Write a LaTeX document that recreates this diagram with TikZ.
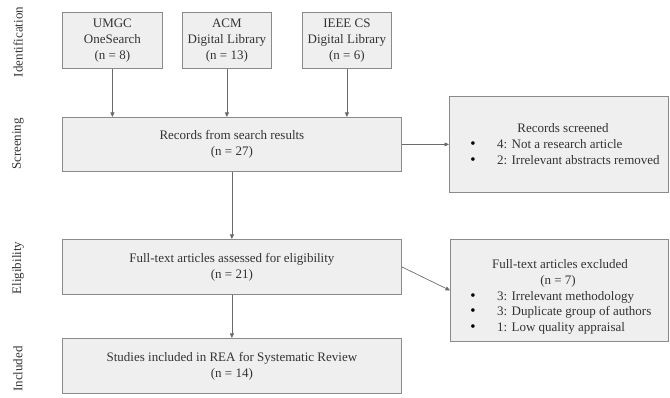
\documentclass[tikz,border=0pt]{standalone}
\usepackage{fontspec}
\setmainfont{Liberation Serif}
\usetikzlibrary{arrows.meta}
\definecolor{boxfill}{HTML}{EFEFEF}
\definecolor{boxline}{HTML}{8A8A8A}
\definecolor{arrowc}{HTML}{6A6A6A}
\definecolor{textc}{HTML}{333333}
\begin{document}
\begin{tikzpicture}[x=1pt,y=-1pt,
  font=\fontsize{13}{16}\selectfont,
  box/.style={draw=boxline, fill=boxfill, line width=0.8pt, inner sep=0pt, anchor=north west, align=center, text=textc},
  arr/.style={draw=arrowc, line width=0.7pt, -{Triangle[length=4.5pt,width=4pt]}},
  side/.style={rotate=90, text=textc, font=\fontsize{13}{15}\selectfont},
  txt/.style={text=textc, inner sep=0pt, anchor=base west},
  bul/.style={text=black, inner sep=0pt, anchor=base, font=\fontsize{15}{16}\selectfont}]
\useasboundingbox (0,0) rectangle (670,398);
% side labels
\node[side] (lid) at (18,42) {Identification};
\node[side] (lsc) at (18,144) {Screening};
\node[side] (lel) at (18,268) {Eligibility};
\node[side] (lin) at (18,369) {Included};
% top boxes
\node[box, minimum width=100pt, minimum height=56pt] (umgc) at (62,12) {UMGC\\OneSearch\\(n = 8)};
\node[box, minimum width=89pt, minimum height=56pt] (acm) at (182,12) {ACM\\Digital Library\\(n = 13)};
\node[box, minimum width=89pt, minimum height=56pt] (ieee) at (302,12) {IEEE CS\\Digital Library\\(n = 6)};
% main column
\node[box, minimum width=339pt, minimum height=54pt] (rec) at (62,117) {Records from search results\\(n = 27)};
\node[box, minimum width=339pt, minimum height=55pt] (full) at (62,239) {Full-text articles assessed for eligibility\\(n = 21)};
\node[box, minimum width=339pt, minimum height=55pt] (inc) at (62,338) {Studies included in REA for Systematic Review\\(n = 14)};
% right boxes
\node[box, minimum width=219pt, minimum height=96pt] (scr) at (449,96) {};
\node[box, minimum width=218pt, minimum height=102pt] (exc) at (450,239) {};
% texts in right boxes
\node[text=textc, inner sep=0pt, anchor=base] (scrt) at (563,133) {Records screened};
\node[bul] (sb1) at (473,149) {\textbullet};
\node[txt] (s1) at (497,149) {4: Not a research article};
\node[bul] (sb2) at (473,165) {\textbullet};
\node[txt] (s2) at (497,165) {2: Irrelevant abstracts removed};
\node[text=textc, inner sep=0pt, anchor=base] (exct) at (560,269) {Full-text articles excluded};
\node[text=textc, inner sep=0pt, anchor=base] (excn) at (558,285) {(n = 7)};
\node[bul] (eb1) at (473,301) {\textbullet};
\node[txt] (e1) at (497,301) {3: Irrelevant methodology};
\node[bul] (eb2) at (473,316) {\textbullet};
\node[txt] (e2) at (497,316) {3: Duplicate group of authors};
\node[bul] (eb3) at (473,331) {\textbullet};
\node[txt] (e3) at (497,331) {1: Low quality appraisal};
% connectors
\draw[arr] (umgc.south) -- (umgc.south |- rec.north);
\draw[arr] (acm.south) -- (acm.south |- rec.north);
\draw[arr] (ieee.south) -- (ieee.south |- rec.north);
\draw[arr] (rec.east) -- (scr.west |- rec.east);
\draw[arr] (rec.south) -- (full.north);
\draw[arr] (full.east) -- (exc.west);
\draw[arr] (full.south) -- (inc.north);
\end{tikzpicture}
\end{document}
